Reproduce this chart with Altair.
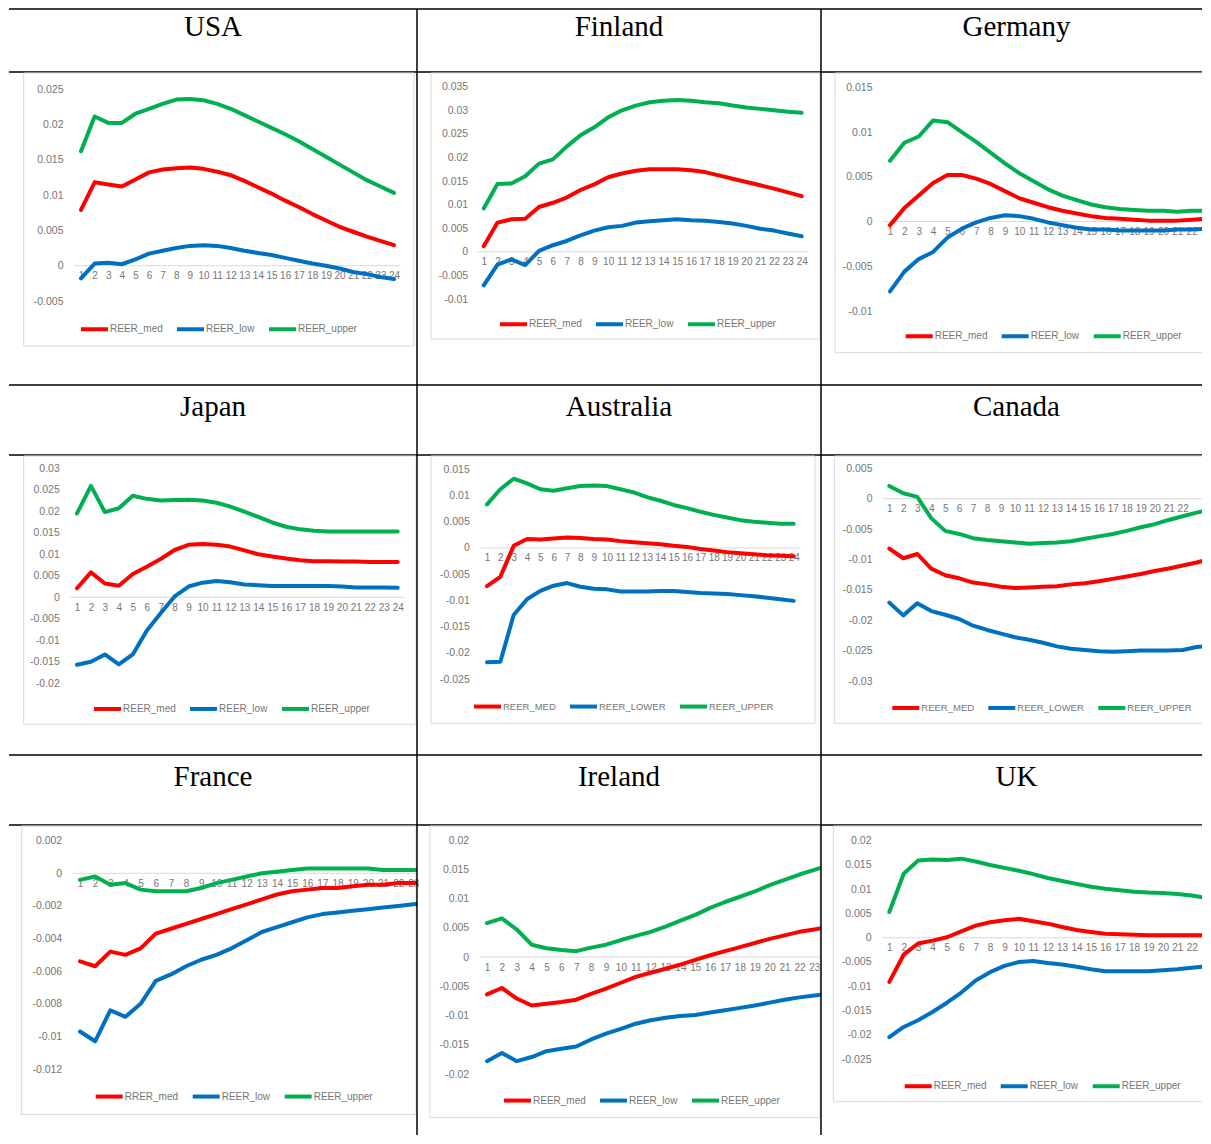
import altair as alt
import pandas as pd

steps = list(range(1, 25))
colors = ["#FF0000", "#0070C0", "#00B050"]
labels_std = ["REER_med", "REER_low", "REER_upper"]
labels_caps = ["REER_MED", "REER_LOWER", "REER_UPPER"]
labels_fra = ["RRER_med", "REER_low", "REER_upper"]

# ---------------- data ----------------
usa_med = [0.0079, 0.0118, 0.0115, 0.0112, 0.0122, 0.0132, 0.0136, 0.0138, 0.0139, 0.0137, 0.0133, 0.0128, 0.0120, 0.0111, 0.0102, 0.0092, 0.0083, 0.0073, 0.0064, 0.0055, 0.0048, 0.0041, 0.0035, 0.0029]
usa_low = [-0.0018, 0.0003, 0.0004, 0.0002, 0.0009, 0.0017, 0.0021, 0.0025, 0.0028, 0.0029, 0.0028, 0.0025, 0.0021, 0.0018, 0.0015, 0.0011, 0.0007, 0.0003, 0.0000, -0.0004, -0.0009, -0.0012, -0.0016, -0.0019]
usa_upper = [0.0162, 0.0211, 0.0202, 0.0202, 0.0215, 0.0222, 0.0229, 0.0235, 0.0236, 0.0234, 0.0229, 0.0222, 0.0213, 0.0204, 0.0195, 0.0186, 0.0176, 0.0165, 0.0154, 0.0143, 0.0132, 0.0121, 0.0112, 0.0103]

fin_med = [0.0012, 0.0062, 0.0069, 0.0070, 0.0095, 0.0104, 0.0115, 0.0131, 0.0143, 0.0158, 0.0166, 0.0172, 0.0175, 0.0175, 0.0175, 0.0173, 0.0169, 0.0162, 0.0155, 0.0148, 0.0141, 0.0134, 0.0126, 0.0118]
fin_low = [-0.0071, -0.0027, -0.0016, -0.0028, 0.0002, 0.0014, 0.0023, 0.0035, 0.0045, 0.0052, 0.0055, 0.0062, 0.0065, 0.0067, 0.0069, 0.0067, 0.0066, 0.0063, 0.0060, 0.0055, 0.0049, 0.0045, 0.0039, 0.0033]
fin_upper = [0.0092, 0.0144, 0.0145, 0.0160, 0.0187, 0.0196, 0.0223, 0.0247, 0.0264, 0.0285, 0.0300, 0.0310, 0.0317, 0.0320, 0.0322, 0.0320, 0.0317, 0.0315, 0.0310, 0.0306, 0.0303, 0.0300, 0.0297, 0.0295]

ger_med = [-0.0004, 0.0015, 0.0029, 0.0043, 0.0052, 0.0052, 0.0048, 0.0042, 0.0034, 0.0026, 0.0021, 0.0016, 0.0012, 0.0009, 0.0006, 0.0004, 0.0003, 0.0002, 0.0001, 0.0001, 0.0001, 0.0002, 0.0003, 0.0003]
ger_low = [-0.0078, -0.0056, -0.0042, -0.0034, -0.0018, -0.0008, -0.0001, 0.0004, 0.0007, 0.0006, 0.0003, -0.0001, -0.0004, -0.0007, -0.0009, -0.0009, -0.0010, -0.0010, -0.0010, -0.0010, -0.0009, -0.0009, -0.0008, -0.0007]
ger_upper = [0.0068, 0.0088, 0.0095, 0.0113, 0.0111, 0.0100, 0.0089, 0.0077, 0.0065, 0.0054, 0.0045, 0.0036, 0.0029, 0.0024, 0.0019, 0.0016, 0.0014, 0.0013, 0.0012, 0.0012, 0.0011, 0.0012, 0.0012, 0.0012]

jpn_med = [0.0021, 0.0058, 0.0032, 0.0027, 0.0054, 0.0071, 0.0089, 0.0110, 0.0122, 0.0124, 0.0122, 0.0118, 0.0109, 0.0100, 0.0095, 0.0090, 0.0086, 0.0084, 0.0084, 0.0083, 0.0083, 0.0082, 0.0082, 0.0082]
jpn_low = [-0.0157, -0.0150, -0.0133, -0.0156, -0.0133, -0.0078, -0.0037, 0.0002, 0.0025, 0.0034, 0.0038, 0.0035, 0.0030, 0.0028, 0.0026, 0.0026, 0.0026, 0.0026, 0.0026, 0.0025, 0.0023, 0.0023, 0.0023, 0.0022]
jpn_upper = [0.0195, 0.0259, 0.0198, 0.0207, 0.0236, 0.0229, 0.0225, 0.0226, 0.0227, 0.0225, 0.0220, 0.0211, 0.0199, 0.0187, 0.0174, 0.0164, 0.0158, 0.0155, 0.0153, 0.0153, 0.0153, 0.0153, 0.0153, 0.0153]

aus_med = [-0.0073, -0.0055, 0.0004, 0.0017, 0.0016, 0.0018, 0.0020, 0.0019, 0.0017, 0.0016, 0.0013, 0.0011, 0.0009, 0.0007, 0.0004, 0.0002, -0.0002, -0.0005, -0.0008, -0.0010, -0.0012, -0.0014, -0.0015, -0.0016]
aus_low = [-0.0218, -0.0217, -0.0128, -0.0098, -0.0082, -0.0072, -0.0067, -0.0074, -0.0078, -0.0079, -0.0083, -0.0083, -0.0083, -0.0082, -0.0082, -0.0084, -0.0086, -0.0087, -0.0088, -0.0090, -0.0092, -0.0095, -0.0098, -0.0101]
aus_upper = [0.0083, 0.0112, 0.0132, 0.0123, 0.0112, 0.0109, 0.0114, 0.0118, 0.0119, 0.0118, 0.0112, 0.0106, 0.0097, 0.0090, 0.0082, 0.0076, 0.0069, 0.0063, 0.0058, 0.0053, 0.0050, 0.0048, 0.0046, 0.0046]

can_med = [-0.0082, -0.0098, -0.0091, -0.0115, -0.0126, -0.0131, -0.0138, -0.0141, -0.0145, -0.0147, -0.0146, -0.0145, -0.0144, -0.0141, -0.0139, -0.0136, -0.0132, -0.0128, -0.0124, -0.0119, -0.0115, -0.0110, -0.0105, -0.0099]
can_low = [-0.0171, -0.0192, -0.0172, -0.0185, -0.0191, -0.0198, -0.0209, -0.0216, -0.0222, -0.0228, -0.0232, -0.0237, -0.0243, -0.0247, -0.0249, -0.0251, -0.0252, -0.0251, -0.0250, -0.0250, -0.0250, -0.0249, -0.0244, -0.0242]
can_upper = [0.0021, 0.0009, 0.0003, -0.0032, -0.0053, -0.0058, -0.0065, -0.0068, -0.0070, -0.0072, -0.0074, -0.0073, -0.0072, -0.0070, -0.0066, -0.0062, -0.0058, -0.0053, -0.0047, -0.0042, -0.0035, -0.0029, -0.0023, -0.0018]

fra_med = [-0.0054, -0.0057, -0.0048, -0.0050, -0.0046, -0.0037, -0.0034, -0.0031, -0.0028, -0.0025, -0.0022, -0.0019, -0.0016, -0.0013, -0.0011, -0.0010, -0.0009, -0.0009, -0.0008, -0.0007, -0.0007, -0.0006, -0.0006, -0.0005]
fra_low = [-0.0097, -0.0103, -0.0084, -0.0088, -0.0080, -0.0066, -0.0062, -0.0057, -0.0053, -0.0050, -0.0046, -0.0041, -0.0036, -0.0033, -0.0030, -0.0027, -0.0025, -0.0024, -0.0023, -0.0022, -0.0021, -0.0020, -0.0019, -0.0018]
fra_upper = [-0.0004, -0.0002, -0.0007, -0.0006, -0.0010, -0.0011, -0.0011, -0.0011, -0.0009, -0.0006, -0.0004, -0.0002, 0.0000, 0.0001, 0.0002, 0.0003, 0.0003, 0.0003, 0.0003, 0.0003, 0.0002, 0.0002, 0.0002, 0.0002]

irl_med = [-0.0064, -0.0053, -0.0071, -0.0083, -0.0080, -0.0077, -0.0073, -0.0063, -0.0054, -0.0044, -0.0034, -0.0027, -0.0020, -0.0013, -0.0005, 0.0003, 0.0010, 0.0017, 0.0024, 0.0031, 0.0037, 0.0043, 0.0047, 0.0052]
irl_low = [-0.0178, -0.0164, -0.0178, -0.0171, -0.0161, -0.0157, -0.0153, -0.0141, -0.0131, -0.0123, -0.0114, -0.0108, -0.0104, -0.0101, -0.0099, -0.0095, -0.0091, -0.0087, -0.0083, -0.0078, -0.0073, -0.0069, -0.0066, -0.0063]
irl_upper = [0.0058, 0.0066, 0.0047, 0.0021, 0.0015, 0.0012, 0.0010, 0.0016, 0.0021, 0.0029, 0.0036, 0.0043, 0.0052, 0.0062, 0.0072, 0.0084, 0.0094, 0.0103, 0.0112, 0.0123, 0.0132, 0.0141, 0.0149, 0.0157]

uk_med = [-0.0091, -0.0035, -0.0012, -0.0006, 0.0001, 0.0013, 0.0025, 0.0032, 0.0036, 0.0039, 0.0034, 0.0029, 0.0022, 0.0016, 0.0012, 0.0008, 0.0007, 0.0006, 0.0005, 0.0005, 0.0005, 0.0005, 0.0005, 0.0005]
uk_low = [-0.0205, -0.0184, -0.0170, -0.0153, -0.0134, -0.0113, -0.0088, -0.0071, -0.0058, -0.0050, -0.0048, -0.0052, -0.0055, -0.0060, -0.0065, -0.0069, -0.0069, -0.0069, -0.0069, -0.0067, -0.0065, -0.0062, -0.0059, -0.0056]
uk_upper = [0.0053, 0.0132, 0.0159, 0.0161, 0.0160, 0.0163, 0.0157, 0.0150, 0.0144, 0.0138, 0.0131, 0.0123, 0.0117, 0.0111, 0.0105, 0.0101, 0.0098, 0.0095, 0.0093, 0.0092, 0.0090, 0.0087, 0.0082, 0.0078]

# y-axis tick labels
usa_ticks = [-0.005, 0, 0.005, 0.01, 0.015, 0.02, 0.025]
fin_ticks = [-0.01, -0.005, 0, 0.005, 0.01, 0.015, 0.02, 0.025, 0.03, 0.035]
ger_ticks = [-0.01, -0.005, 0, 0.005, 0.01, 0.015]
jpn_ticks = [-0.02, -0.015, -0.01, -0.005, 0, 0.005, 0.01, 0.015, 0.02, 0.025, 0.03]
aus_ticks = [-0.025, -0.02, -0.015, -0.01, -0.005, 0, 0.005, 0.01, 0.015]
can_ticks = [-0.03, -0.025, -0.02, -0.015, -0.01, -0.005, 0, 0.005]
fra_ticks = [-0.012, -0.01, -0.008, -0.006, -0.004, -0.002, 0, 0.002]
irl_ticks = [-0.02, -0.015, -0.01, -0.005, 0, 0.005, 0.01, 0.015, 0.02]
uk_ticks = [-0.025, -0.02, -0.015, -0.01, -0.005, 0, 0.005, 0.01, 0.015, 0.02]

countries = ["USA", "Finland", "Germany", "Japan", "Australia", "Canada", "France", "Ireland", "UK"]

# ---------------- layout (style only) ----------------
COLW = [408, 404, 381]
TITLE_CX = [204, 202, 195.5]
TITLE_H = [63, 70, 70]
CHART_H = [313, 300, 310]
TITLE_BASE = [27, 31, 31]

lay = {
    "USA":       dict(x1=72, x24=385, ytop=17, ybot=229, lr=54, fr=(14.7, 1, 405, 274), lx=74, ly=255, nx=24, lf=10),
    "Finland":   dict(x1=66.7, x24=384.7, ytop=14.7, ybot=227, lr=50.7, fr=(14, 1, 403, 267), lx=85, ly=250, nx=24, lf=10),
    "Germany":   dict(x1=69, x24=399.4, ytop=15.3, ybot=239, lr=51, fr=(14, 1, 420, 280.7), lx=86.7, ly=262, nx=22, lf=10),
    "Japan":     dict(x1=68, x24=388.7, ytop=13.3, ybot=228.3, lr=50.3, fr=(14.7, 1, 407, 269.3), lx=87, ly=251.7, nx=24, lf=10),
    "Australia": dict(x1=70, x24=376.7, ytop=14.3, ybot=224, lr=52.3, fr=(14, 1, 398, 268.3), lx=59, ly=249.3, nx=24, lf=9.5),
    "Canada":    dict(x1=68.3, x24=389.6, ytop=13.3, ybot=226, lr=51, fr=(13.3, 1, 420, 268.3), lx=73.3, ly=250.7, nx=22, lf=9.5),
    "France":    dict(x1=71, x24=419.5, ytop=15.7, ybot=244, lr=52.7, fr=(12.7, 1, 407, 289.3), lx=88.7, ly=269.3, nx=23, lf=10),
    "Ireland":   dict(x1=70, x24=412.2, ytop=15, ybot=249, lr=51.7, fr=(13, 1, 403, 292.7), lx=89, ly=273.3, nx=23, lf=10),
    "UK":        dict(x1=68.3, x24=399.5, ytop=15.7, ybot=234, lr=50, fr=(12.3, 1, 420, 276.7), lx=85.7, ly=259, nx=22, lf=10),
}

series = {
    "USA": (usa_med, usa_low, usa_upper, labels_std, usa_ticks),
    "Finland": (fin_med, fin_low, fin_upper, labels_std, fin_ticks),
    "Germany": (ger_med, ger_low, ger_upper, labels_std, ger_ticks),
    "Japan": (jpn_med, jpn_low, jpn_upper, labels_std, jpn_ticks),
    "Australia": (aus_med, aus_low, aus_upper, labels_caps, aus_ticks),
    "Canada": (can_med, can_low, can_upper, labels_caps, can_ticks),
    "France": (fra_med, fra_low, fra_upper, labels_fra, fra_ticks),
    "Ireland": (irl_med, irl_low, irl_upper, labels_std, irl_ticks),
    "UK": (uk_med, uk_low, uk_upper, labels_std, uk_ticks),
}

GRAY = "#767676"
SANS = "Liberation Sans"
one = pd.DataFrame({"k": [0]})


def title_cell(name, W, H, base, cx, right_line):
    df = pd.DataFrame({"country": [name]})
    txt = alt.Chart(df).mark_text(
        font="Liberation Serif", fontSize=29, color="black",
        align="center", baseline="alphabetic"
    ).encode(text="country:N", x=alt.value(cx), y=alt.value(base))
    top = alt.Chart(one).mark_rule(color="black", strokeWidth=1.5).encode(
        x=alt.value(0), x2=alt.value(W), y=alt.value(0))
    bot = alt.Chart(one).mark_rule(color="black", strokeWidth=1.5).encode(
        x=alt.value(0), x2=alt.value(W), y=alt.value(H))
    layers = [txt, top, bot]
    if right_line:
        layers.append(alt.Chart(one).mark_rule(color="black", strokeWidth=1.5).encode(
            x=alt.value(W), y=alt.value(0), y2=alt.value(H)))
    return alt.layer(*layers).properties(width=W, height=H)


def chart_cell(name, W, H, right_line):
    med, low, upper, labels, ticks = series[name]
    L = lay[name]
    df = pd.DataFrame({
        "step": steps * 3,
        "value": med + low + upper,
        "series": [labels[0]] * 24 + [labels[1]] * 24 + [labels[2]] * 24,
    })
    s = (L["x24"] - L["x1"]) / 23.0
    xr = [L["x1"] - s / 2, L["x24"] + s / 2]
    ymin, ymax = ticks[0], ticks[-1]
    y0 = L["ytop"] + (ymax - 0) / (ymax - ymin) * (L["ybot"] - L["ytop"])

    xscale = alt.Scale(type="point", domain=steps, range=xr, padding=0.5)
    yscale = alt.Scale(domain=[ymin, ymax], range=[L["ybot"], L["ytop"]], nice=False, zero=False)
    xaxis = alt.Axis(orient="bottom", offset=y0 - H, domain=False, ticks=False, tickSize=0,
                     labelPadding=5, labelAngle=0, labelOverlap=False, labelFontSize=10,
                     labelColor=GRAY, labelFont=SANS, values=steps[:L["nx"]], grid=False,
                     title=None, labelBound=False, labelFlush=False)
    yaxis = alt.Axis(orient="left", offset=-L["lr"], domain=False, ticks=False, tickSize=0,
                     labelPadding=0, values=ticks,
                     labelExpr="replace(format(datum.value, '.4~f'), '\u2212', '-')",
                     grid=False, title=None,
                     labelFontSize=10.5, labelColor=GRAY, labelFont=SANS)

    fx0, fy0, fx1, fy1 = L["fr"]
    frame = alt.Chart(one).mark_rect(fill="white", fillOpacity=0, stroke="#d9d9d9",
                                     strokeWidth=1, clip=True).encode(
        x=alt.value(fx0), x2=alt.value(fx1), y=alt.value(fy0), y2=alt.value(fy1))
    zero = alt.Chart(one).mark_rule(color="#d9d9d9", strokeWidth=1).encode(
        y=alt.YDatum(0, type="quantitative", scale=yscale, axis=yaxis),
        x=alt.value(xr[0]), x2=alt.value(min(xr[1], W)))
    lines = alt.Chart(df).mark_line(strokeWidth=4, clip=True, strokeCap="round",
                                    strokeJoin="round").encode(
        x=alt.X("step:O", scale=xscale, axis=xaxis),
        y=alt.Y("value:Q", scale=yscale, axis=yaxis),
        color=alt.Color("series:N", scale=alt.Scale(domain=labels, range=colors),
                        legend=alt.Legend(orient="none", legendX=L["lx"] - 4,
                                          legendY=L["ly"] - 13.5,
                                          direction="horizontal", title=None,
                                          symbolType="stroke", symbolStrokeWidth=4,
                                          symbolSize=729, labelFontSize=L["lf"],
                                          labelColor=GRAY, labelFont=SANS, labelOffset=0,
                                          columnPadding=6, padding=0)),
    )
    layers = [frame, zero, lines]
    if right_line:
        layers.append(alt.Chart(one).mark_rule(color="black", strokeWidth=1.5).encode(
            x=alt.value(W), y=alt.value(0), y2=alt.value(H)))
    return alt.layer(*layers).properties(width=W, height=H)


cells = []
for r in range(3):
    for c in range(3):
        name = countries[r * 3 + c]
        cells.append(title_cell(name, COLW[c], TITLE_H[r], TITLE_BASE[r], TITLE_CX[c], c < 2))
    for c in range(3):
        name = countries[r * 3 + c]
        cells.append(chart_cell(name, COLW[c], CHART_H[r], c < 2))

chart = alt.concat(*cells, columns=3, spacing=0, bounds="flush", align="each").resolve_scale(
    x="independent", y="independent", color="independent"
).resolve_legend(color="independent").properties(
    padding={"left": 0, "top": 0, "right": 0, "bottom": 0}
).configure_view(stroke="transparent", strokeWidth=0)

chart.save("out.html", embed_options={"renderer": "svg", "actions": False})
